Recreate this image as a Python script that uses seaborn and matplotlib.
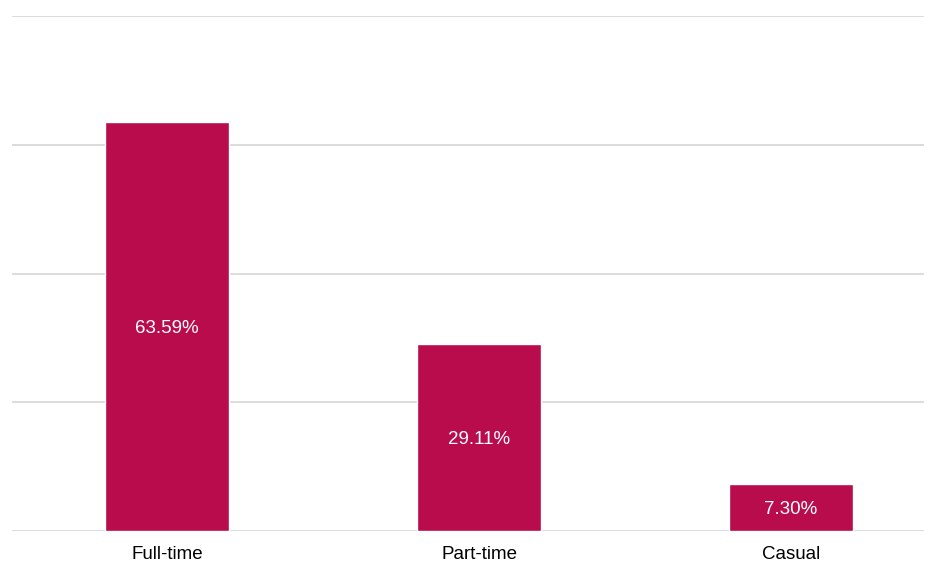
import matplotlib
matplotlib.use("Agg")
import matplotlib.pyplot as plt
import seaborn as sns
import pandas as pd

categories = ["Full-time", "Part-time", "Casual"]
values = [63.59, 29.11, 7.30]
labels = ["63.59%", "29.11%", "7.30%"]

sns.set_style("white")
plt.rcParams['font.family'] = ['Liberation Sans', 'DejaVu Sans']

df = pd.DataFrame({"cat": categories, "val": values})

fig = plt.figure(figsize=(9.36, 5.63), dpi=100)
W, H = 936, 563
ax = fig.add_axes([12 / W, (H - 531) / H, (924 - 12) / W, (531 - 16) / H])

sns.barplot(data=df, x="cat", y="val", color="#B80C4C", saturation=1,
            width=0.397, ax=ax, zorder=3)

ax.set_ylim(0, 80)
ax.set_xlim(-0.497, 2.426)
ax.set_yticks([0, 20, 40, 60, 80])
ax.yaxis.grid(True, color="#D9D9D9", linewidth=1.3, zorder=0)
ax.set_axisbelow(True)
ax.tick_params(axis="y", left=False, labelleft=False)
ax.tick_params(axis="x", bottom=False, labelsize=13.5, colors="#000000", pad=7)
for s in ax.spines.values():
    s.set_visible(False)
ax.set_xlabel("")
ax.set_ylabel("")

for i, (v, lab) in enumerate(zip(values, labels)):
    ax.text(i, v / 2 - 0.3, lab, ha="center", va="center", color="white", fontsize=13.5)

fig.savefig("out.png", dpi=100)
